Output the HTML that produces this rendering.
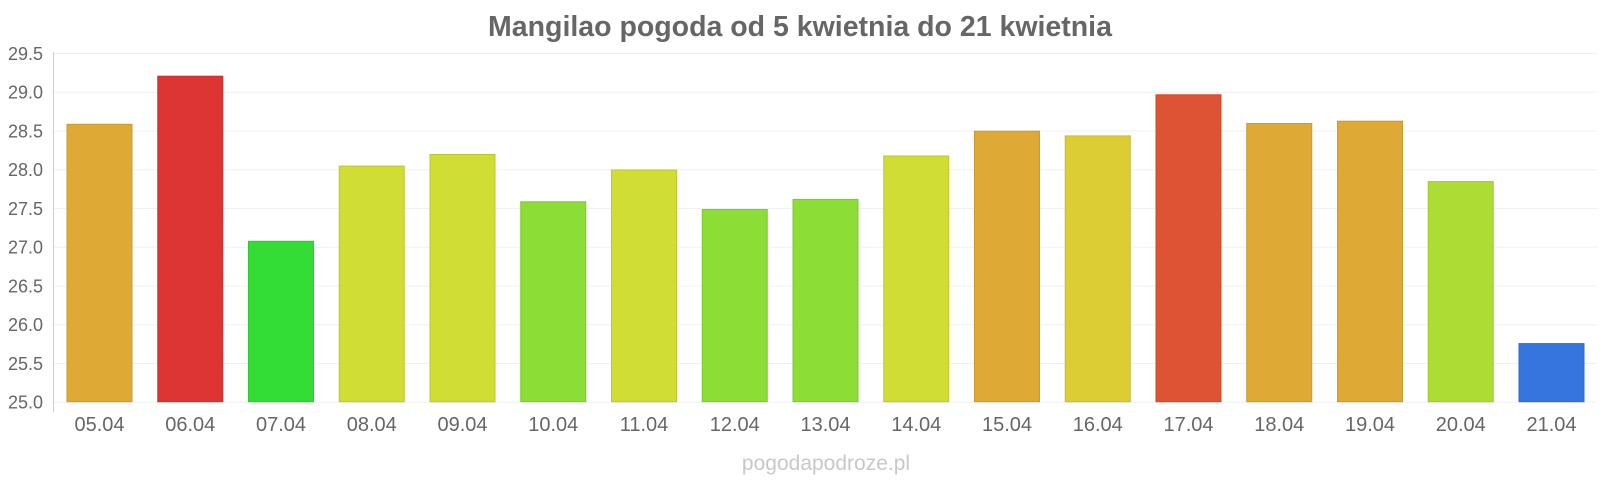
<!DOCTYPE html>
<html><head><meta charset="utf-8"><style>html,body{margin:0;padding:0;background:#fff}svg{display:block}</style></head>
<body>
<svg width="1600" height="480" xmlns="http://www.w3.org/2000/svg" font-family="Liberation Sans, sans-serif">
<rect width="1600" height="480" fill="#fff"/>
<text x="800" y="36" text-anchor="middle" font-size="28.5" font-weight="bold" fill="#666">Mangilao pogoda od 5 kwietnia do 21 kwietnia</text>
<g stroke="#f0f0f0" stroke-width="1">
<line x1="54" x2="1597" y1="53.5" y2="53.5"/><line x1="54" x2="1597" y1="92.2" y2="92.2"/><line x1="54" x2="1597" y1="131" y2="131"/><line x1="54" x2="1597" y1="169.7" y2="169.7"/><line x1="54" x2="1597" y1="208.5" y2="208.5"/><line x1="54" x2="1597" y1="247.2" y2="247.2"/><line x1="54" x2="1597" y1="286" y2="286"/><line x1="54" x2="1597" y1="324.7" y2="324.7"/><line x1="54" x2="1597" y1="363.5" y2="363.5"/><line x1="54" x2="1597" y1="402.2" y2="402.2"/>
</g>
<line x1="53.5" x2="53.5" y1="52" y2="412" stroke="#ccc"/>
<g font-size="18" fill="#666" text-anchor="end">
<text x="43" y="60">29.5</text><text x="43" y="98.7">29.0</text><text x="43" y="137.5">28.5</text><text x="43" y="176.2">28.0</text><text x="43" y="215">27.5</text><text x="43" y="253.7">27.0</text><text x="43" y="292.5">26.5</text><text x="43" y="331.2">26.0</text><text x="43" y="370">25.5</text><text x="43" y="408.7">25.0</text>
</g>
<g stroke-width="1">
<rect x="67" y="124.3" width="65" height="277.4" fill="#dea935" stroke="#c89a30"/>
<rect x="157.75" y="76.2" width="65" height="325.5" fill="#dd3434" stroke="#c83030"/>
<rect x="248.5" y="241.3" width="65" height="160.4" fill="#33dd35" stroke="#2ec830"/>
<rect x="339.25" y="166.1" width="65" height="235.6" fill="#cfdd34" stroke="#bac830"/>
<rect x="430" y="154.5" width="65" height="247.2" fill="#cfdd34" stroke="#bac830"/>
<rect x="520.75" y="201.8" width="65" height="199.9" fill="#8cdd35" stroke="#7ec830"/>
<rect x="611.5" y="170" width="65" height="231.7" fill="#cfdd34" stroke="#bac830"/>
<rect x="702.25" y="209.5" width="65" height="192.2" fill="#8cdd35" stroke="#7ec830"/>
<rect x="793" y="199.4" width="65" height="202.3" fill="#8cdd35" stroke="#7ec830"/>
<rect x="883.75" y="156" width="65" height="245.7" fill="#cfdd34" stroke="#bac830"/>
<rect x="974.5" y="131.2" width="65" height="270.5" fill="#dea935" stroke="#c89a30"/>
<rect x="1065.25" y="135.9" width="65" height="265.8" fill="#ddcd34" stroke="#c8b930"/>
<rect x="1156" y="94.8" width="65" height="306.9" fill="#de5334" stroke="#c84b30"/>
<rect x="1246.75" y="123.5" width="65" height="278.2" fill="#dea935" stroke="#c89a30"/>
<rect x="1337.5" y="121.2" width="65" height="280.5" fill="#dea935" stroke="#c89a30"/>
<rect x="1428.25" y="181.6" width="65" height="220.1" fill="#addd34" stroke="#9cc830"/>
<rect x="1519" y="343.6" width="65" height="58.1" fill="#3476dd" stroke="#306bc8"/>
</g>
<g font-size="20" fill="#666" text-anchor="middle">
<text x="99.5" y="431">05.04</text><text x="190.25" y="431">06.04</text><text x="281" y="431">07.04</text><text x="371.75" y="431">08.04</text><text x="462.5" y="431">09.04</text><text x="553.25" y="431">10.04</text><text x="644" y="431">11.04</text><text x="734.75" y="431">12.04</text><text x="825.5" y="431">13.04</text><text x="916.25" y="431">14.04</text><text x="1007" y="431">15.04</text><text x="1097.75" y="431">16.04</text><text x="1188.5" y="431">17.04</text><text x="1279.25" y="431">18.04</text><text x="1370" y="431">19.04</text><text x="1460.75" y="431">20.04</text><text x="1551.5" y="431">21.04</text>
</g>
<text x="826" y="470" text-anchor="middle" font-size="21" fill="#c8c8c8">pogodapodroze.pl</text>
</svg>
</body></html>
